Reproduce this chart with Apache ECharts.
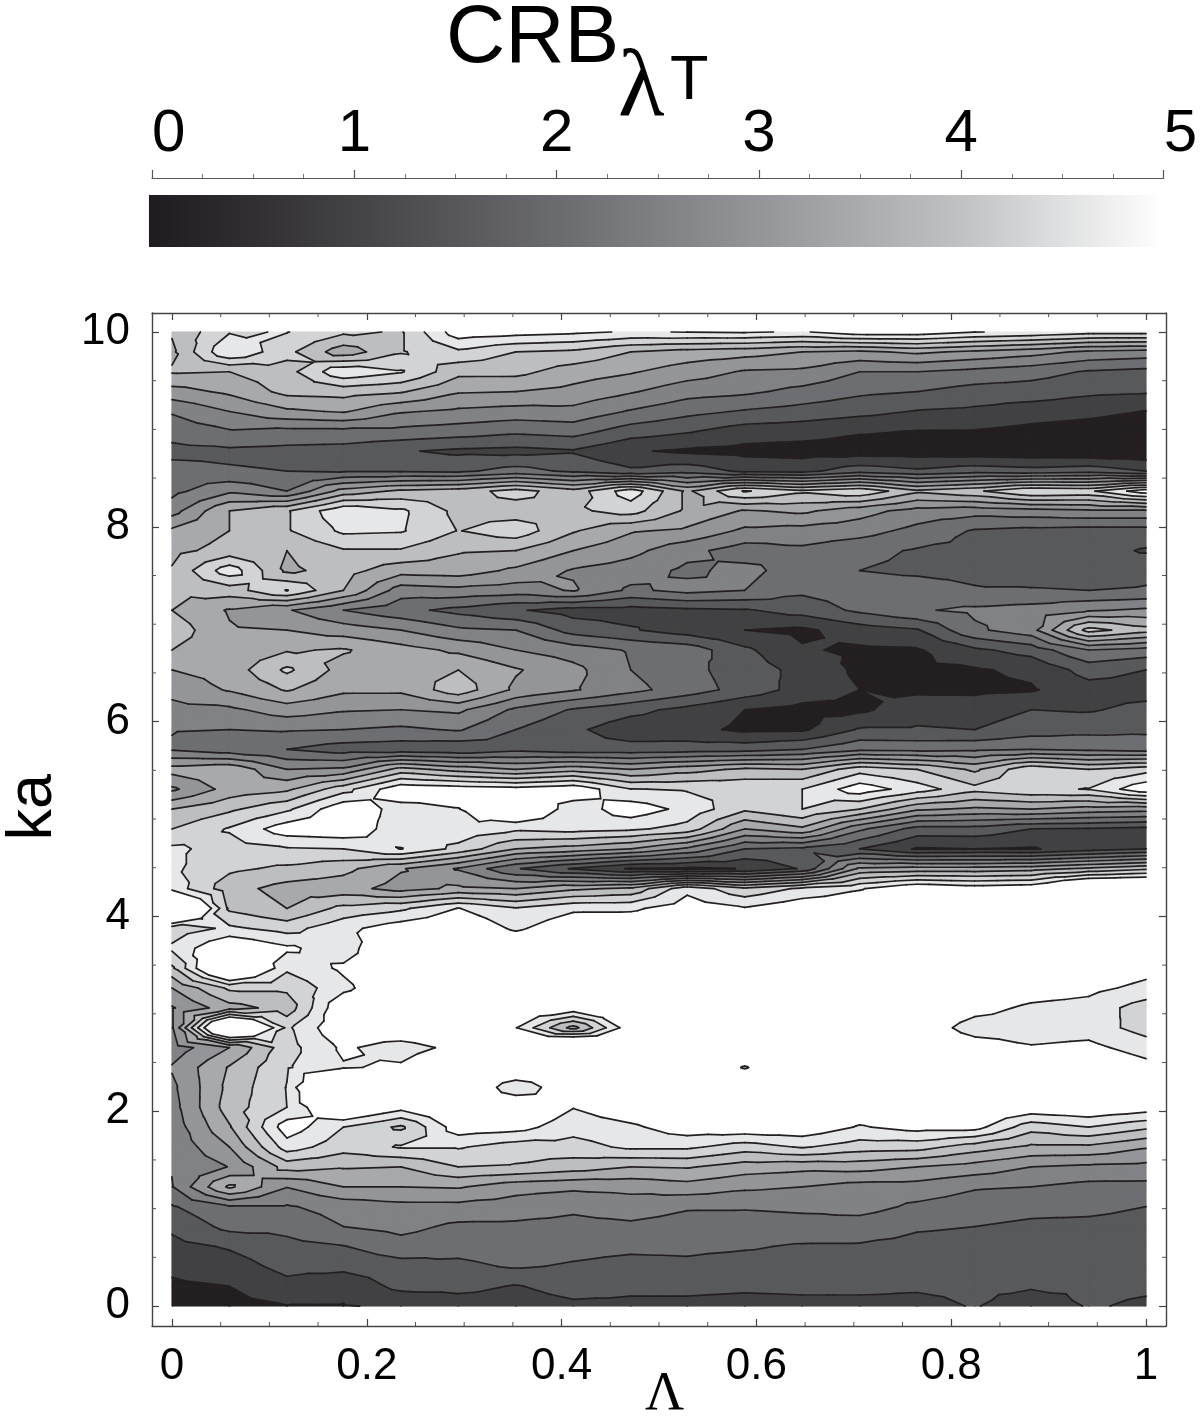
<!DOCTYPE html>
<html>
<head>
<meta charset="utf-8">
<title>CRB contour</title>
<script src="https://cdn.jsdelivr.net/npm/echarts@6/dist/echarts.min.js"></script>
<style>
html, body { margin: 0; padding: 0; background: #fff; }
#main { width: 1200px; height: 1419px; }
</style>
</head>
<body>
<div id="main"></div>
<script>
var lambdaValues = [0, 0.059, 0.118, 0.176, 0.235, 0.294, 0.353, 0.412, 0.471, 0.529, 0.588, 0.647, 0.706, 0.765, 0.824, 0.882, 0.941, 1];
var kaValues = [0, 0.204, 0.408, 0.612, 0.816, 1.02, 1.224, 1.429, 1.633, 1.837, 2.041, 2.245, 2.449, 2.653, 2.857, 3.061, 3.265, 3.469, 3.673, 3.878, 4.082, 4.286, 4.49, 4.694, 4.898, 5.102, 5.306, 5.51, 5.714, 5.918, 6.122, 6.327, 6.531, 6.735, 6.939, 7.143, 7.347, 7.551, 7.755, 7.959, 8.163, 8.367, 8.571, 8.776, 8.98, 9.184, 9.388, 9.592, 9.796, 10];
// one row per ka, bottom row first
var crbRows = [
	[.2,.35,.48,.48,.55,.75,.75,.9,.9,.85,.8,.85,.85,.85,1.03,.75,1.03,.95],
	[.42,.5,.85,.62,1.15,1.15,.97,1.2,1.1,1.15,1.1,1.12,1.12,1.07,1.1,1.05,1.08,1.05],
	[.6,.78,1.15,1.15,1.3,1.4,1.55,1.45,1.35,1.4,1.3,1.3,1.3,1.22,1.2,1.2,1.2,1.15],
	[.85,1.05,1.35,1.48,1.8,1.65,1.75,1.65,1.6,1.6,1.55,1.45,1.45,1.37,1.35,1.3,1.3,1.25],
	[1.1,1.65,1.65,2,2.15,1.9,1.9,1.85,1.9,1.8,1.75,1.8,1.75,1.55,1.5,1.4,1.4,1.35],
	[1.45,1.95,1.95,2.2,2.35,2.35,2.25,2.1,2.25,2.05,2.05,2.1,2.2,1.9,1.75,1.65,1.6,1.5],
	[1.98,3.6,2.52,3,3,3.05,2.7,2.6,2.65,2.8,2.6,2.5,2.3,2.3,2.05,2,1.85,1.85],
	[2.02,2.52,3.7,3.55,3.5,4,3.95,3.75,3.5,3.55,3.25,3.15,3.2,3,2.8,2.5,2.4,2.35],
	[2.1,3,4.75,4.2,4.55,4.55,4.25,4.3,4.6,4.6,4.25,4.55,4.25,4.2,3.75,3.4,3.4,3.05],
	[2.2,3.45,5.3,4.5,3.9,5.3,5.2,4.7,4.9,5.3,5.4,5.4,4.95,5.2,5.2,4.2,4.5,4.1],
	[2.3,3.75,4.5,5.9,5.2,5.6,5.6,5.02,5.4,5.6,5.7,5.7,5.4,5.5,5.6,5.4,5.5,5.3],
	[2.38,3.65,4.52,7.5,5.8,5.8,4.6,5.5,5.7,5.8,5.8,5.8,5.7,5.7,5.7,5.6,5.6,5.6],
	[2.55,3.55,4.45,4.95,5.1,5.8,5.7,5.6,5.7,5.7,4.95,5.7,5.7,5.7,5.7,5.6,5.6,5.2],
	[2.2,3,4.3,5.1,4.7,5.2,5.7,7,5.8,5.7,5.7,5.7,5.7,5.6,5.3,5.05,5.15,4.75],
	[2.45,7,4.4,5.5,5.6,5.8,5.02,3.3,5.4,5.8,5.8,5.8,5.7,5.4,4.75,4.7,4.75,4.3],
	[2.45,3.3,3.7,5.5,5.7,5.8,5.7,5.4,5.8,5.8,5.8,5.8,5.7,5.6,5.2,4.9,4.8,4.25],
	[3,4.1,4.1,4.85,5.6,5.8,5.8,5.8,5.8,5.8,5.8,5.8,5.8,5.7,5.5,5.3,5.15,4.85],
	[3.9,6.5,4.6,5.1,5.6,5.8,5.8,5.8,5.8,5.8,5.8,5.8,5.8,5.8,5.7,5.6,5.5,5.2],
	[4.6,5.6,5.1,4.7,5.8,5.8,5.6,5.8,5.8,5.8,5.8,5.8,5.8,5.8,5.8,5.8,5.8,5.6],
	[4.2,4.6,4.3,4.85,5.3,5.5,4.9,5.4,5.5,5.6,5.6,5.6,5.6,5.6,5.6,5.7,5.8,5.8],
	[7.4,3.9,3.5,4.15,4.4,5.02,4.55,4.9,4.9,5.3,5.05,5.4,5.5,5.7,5.7,5.8,6.5,6.5],
	[4.8,3.7,3.3,3.2,2.8,3.1,3,3.4,3.6,4.85,4.1,4.6,4.95,5.5,5.3,5.4,6.5,6.5],
	[4.6,4.1,3.9,3.65,3.05,2.45,1.55,.95,.45,.4,.52,1.05,3.1,3.2,3.2,3.3,3.6,3.9],
	[4.6,4.3,4.45,4.5,5.02,4.35,3.5,3.3,3,2.4,1.5,1.4,1,.45,.5,.45,.75,.98],
	[4,4.55,5.3,5.4,4.7,4.85,4.6,4.7,4.6,4.3,3,3.4,2.1,1.3,1.3,1,.95,.85],
	[3.5,3.9,4.4,5.4,4.8,4.98,5.8,4.7,5.3,4.85,4.1,4.5,4,3.1,2.9,3,2.8,2.7],
	[2.4,3.2,3.4,4.3,5.4,5.3,5.2,5.4,4.52,4.45,4.4,4.5,5.3,4.75,4.15,4.4,4.52,5.4],
	[3.2,3.4,2.5,2.6,3.7,3.3,3,3.3,3,3.3,3.6,3.5,4.3,4,3.4,4.4,4,4.3],
	[1.95,1.7,1.5,1.25,1.2,1.1,1.35,1.2,1.2,1.25,1.3,1.5,1.9,1.85,1.9,2,1.9,1.8],
	[2.02,2,2.05,2,1.9,2.05,1.5,1.1,.7,.65,.4,.42,1.05,1.05,1,1.25,1.35,1.4],
	[2.35,2.4,2.75,2.55,2.5,2.6,1.9,1.45,1.15,.85,.5,.35,.4,.8,.75,1,.95,1.15],
	[2.65,3.05,3.55,3.1,3.1,3.8,2.9,2.55,2.15,1.75,1.3,.8,.5,.4,.4,.45,.8,.8],
	[3,3.2,4.1,3.3,3.3,3.5,3.05,2.65,2,1.65,1.25,.85,.4,.4,.45,.6,1.2,1],
	[3.5,3.1,3.45,3.55,3.2,2.9,2.5,2.25,1.95,1.8,1.1,.55,.42,.45,.9,1.2,2,1.8],
	[3.8,3.05,3,2.75,2.5,2.1,2,1.3,1.05,.75,.5,.4,.75,.95,1.9,2.3,4.2,3.7],
	[3.5,2.95,2.55,2,1.65,1.35,1.05,.8,.8,.9,.95,1.2,1.6,1.95,2.1,2.2,2.45,2.6],
	[3.6,3.75,4.52,3.5,2.25,2.35,2.25,2.55,1.9,2.15,2,1.6,1.75,1.75,1.55,1.55,1.5,1.55],
	[3.55,4.8,3.4,3.7,3.2,3.25,2.9,2.45,2.25,1.9,2.15,1.75,1.5,1.4,1.35,1.2,1.2,1.35],
	[3.35,3.7,3.5,3.95,3.95,3.55,3.5,3,2.65,2.15,1.75,1.9,1.65,1.45,1.35,1.25,1.2,.95],
	[3.1,3.5,3.95,4.6,4.55,3.98,4.3,3.55,3.05,2.9,2.4,2.3,2.2,1.85,1.45,1.35,1.3,1.3],
	[2.3,3.5,3.95,4.9,4.6,3.85,3.75,3.9,4.2,3.4,2.95,3.1,2.7,2.3,2.2,2.3,2.4,2.4],
	[1.85,2.4,2,3.2,3.6,3.75,4.2,3.7,4.8,3.4,4.55,4.1,4.4,3.6,3.9,4.5,4.4,5.3],
	[1.7,1.55,1.5,1.45,1.45,1.4,1.7,1.4,1.1,1.3,.9,.85,1.3,1.1,1.3,1.2,1.3,1],
	[1.35,1.4,1.35,1.3,1.05,.9,.85,.95,.55,.42,.35,.3,.25,.25,.2,.15,.1,.1],
	[1.7,1.95,1.85,1.85,1.85,1.75,1.6,1.7,1.25,1.05,.75,.7,.55,.48,.47,.35,.25,.1],
	[2.05,2.5,2.9,3.05,2.55,2.4,2.3,2.35,1.95,1.65,1.45,1.3,1.15,.97,.9,.75,.65,.48],
	[2.8,3.1,3.65,3.7,3.55,3.05,3,2.85,2.55,2.2,2.1,1.85,1.6,1.5,1.3,1.25,1.1,1.05],
	[3.55,3.5,3.8,4.9,4.55,3.65,3.65,3.25,3.05,2.75,2.45,2.4,2,2,1.85,1.7,1.45,1.35],
	[3.4,4.98,4.15,3.2,3.95,4.4,4,3.9,3.5,3.3,3.2,3,2.9,3.1,2.9,2.7,2.4,2.3],
	[3.55,4.46,4.52,4.1,3.95,5.3,5.2,5.1,4.95,5.02,5.05,4.95,5.3,5.3,5.02,4.9,4.7,4.7]
];
var contourLevels = [0.5, 1, 1.5, 2, 2.5, 3, 3.5, 4, 4.5, 5];
var bandColors = ['#231f20', '#414042', '#58595b', '#6d6e71', '#808285', '#939598', '#a7a9ac', '#bcbec0', '#d1d3d4', '#e6e7e8', '#ffffff'];
var lineColor = '#231f20';

var lambdaMajor = [0, 0.2, 0.4, 0.6, 0.8, 1];
var lambdaMinor = [0.05, 0.1, 0.15, 0.25, 0.3, 0.35, 0.45, 0.5, 0.55, 0.65, 0.7, 0.75, 0.85, 0.9, 0.95];
var kaMajor = [0, 2, 4, 6, 8, 10];
var kaMinor = [0.5, 1, 1.5, 2.5, 3, 3.5, 4.5, 5, 5.5, 6.5, 7, 7.5, 8.5, 9, 9.5];
var barTicks = [0, 1, 2, 3, 4, 5];
var barColors = ['#1f1b20', '#434245', '#6a6b6f', '#939598', '#bfc1c3', '#ffffff'];

var xRange = [-0.0205, 1.0205];
var yRange = [-0.205, 10.195];

// every grid cell becomes four triangles around its centre, so peaks come out as plain diamonds
var triangles = [];
for (var j = 0; j < kaValues.length - 1; j++) {
	for (var i = 0; i < lambdaValues.length - 1; i++) {
		for (var k = 0; k < 4; k++) {
			triangles.push([i, j, k]);
		}
	}
}
var cellCorners = [[0, 0], [1, 0], [1, 1], [0, 1]];

function triPoints(tri) {
	var corners = cellCorners.map(function(c) {
		var ci = tri[0] + c[0];
		var cj = tri[1] + c[1];
		return [lambdaValues[ci], kaValues[cj], crbRows[cj][ci]];
	});
	var centre = [0, 0, 0];
	corners.forEach(function(p) {
		centre[0] += p[0] / 4;
		centre[1] += p[1] / 4;
		centre[2] += p[2] / 4;
	});
	return [corners[tri[2]], corners[(tri[2] + 1) % 4], centre];
}

function lerp(a, b, level) {
	var t = (level - a[2]) / (b[2] - a[2]);
	return [a[0] + (b[0] - a[0]) * t, a[1] + (b[1] - a[1]) * t, level];
}

// keep the part of a polygon above (sign 1) or below (sign -1) a level
function clipPoly(poly, level, sign) {
	var out = [];
	for (var n = 0; n < poly.length; n++) {
		var a = poly[n];
		var b = poly[(n + 1) % poly.length];
		var aIn = (a[2] - level) * sign >= 0;
		var bIn = (b[2] - level) * sign >= 0;
		if (aIn) out.push(a);
		if (aIn !== bIn) out.push(lerp(a, b, level));
	}
	return out;
}

function renderFill(params, api) {
	var pts = triPoints(triangles[params.dataIndex]);
	var children = [];
	for (var b = 0; b < bandColors.length; b++) {
		var poly = pts;
		if (b > 0) poly = clipPoly(poly, contourLevels[b - 1], 1);
		if (b < contourLevels.length && poly.length) poly = clipPoly(poly, contourLevels[b], -1);
		if (poly.length < 3) continue;
		children.push({
			type: 'polygon',
			shape: { points: poly.map(function(p) { return api.coord([p[0], p[1]]); }) },
			style: { fill: bandColors[b], stroke: bandColors[b], lineWidth: 1 }
		});
	}
	return { type: 'group', children: children };
}

function renderLines(params, api) {
	var pts = triPoints(triangles[params.dataIndex]);
	var children = [];
	contourLevels.forEach(function(level) {
		var cut = [];
		for (var n = 0; n < 3; n++) {
			var a = pts[n];
			var b = pts[(n + 1) % 3];
			if ((a[2] >= level) !== (b[2] >= level)) cut.push(lerp(a, b, level));
		}
		if (cut.length === 2) {
			var p1 = api.coord([cut[0][0], cut[0][1]]);
			var p2 = api.coord([cut[1][0], cut[1][1]]);
			children.push({
				type: 'line',
				shape: { x1: p1[0], y1: p1[1], x2: p2[0], y2: p2[1] },
				style: { stroke: lineColor, lineWidth: 1.7, lineCap: 'round' }
			});
		}
	});
	return { type: 'group', children: children };
}

// short frame ticks between the numbered ones, on all four sides
var minorTicks = [];
lambdaMinor.forEach(function(v) { minorTicks.push(['x', v]); });
kaMinor.forEach(function(v) { minorTicks.push(['y', v]); });

function renderMinor(params, api) {
	var t = minorTicks[params.dataIndex];
	var len = 4;
	var children = [];
	var ends = t[0] === 'x' ? [[t[1], yRange[0], 0, -len], [t[1], yRange[1], 0, len]] : [[xRange[0], t[1], len, 0], [xRange[1], t[1], -len, 0]];
	ends.forEach(function(e) {
		var p1 = api.coord([e[0], e[1]]);
		children.push({
			type: 'line',
			shape: { x1: p1[0], y1: p1[1], x2: p1[0] + e[2], y2: p1[1] + e[3] },
			style: { stroke: '#555', lineWidth: 1 }
		});
	});
	return { type: 'group', children: children };
}

function renderBar(params, api) {
	var p1 = api.coord([-0.015, 1]);
	var p2 = api.coord([5, 0]);
	var stops = barColors.map(function(c, n) {
		return { offset: barTicks[n] / 5, color: c };
	});
	return {
		type: 'rect',
		shape: { x: p1[0], y: p1[1], width: p2[0] - p1[0], height: p2[1] - p1[1] },
		style: { fill: new echarts.graphic.LinearGradient(0, 0, 1, 0, stops) }
	};
}

var fontName = '"Liberation Sans", Arial, sans-serif';

function frameAxis(position, customTicks, showLabel, range) {
	var axis = {
		type: 'value',
		position: position,
		min: range[0],
		max: range[1],
		gridIndex: 0,
		splitLine: { show: false },
		axisLine: { show: true, onZero: false, lineStyle: { color: '#444', width: 1.4 } },
		axisTick: { show: true, inside: true, length: 7, customValues: customTicks, lineStyle: { color: '#444', width: 1.2 } },
		axisLabel: { show: false }
	};
	if (showLabel) {
		axis.axisLabel = {
			show: true,
			customValues: customTicks,
			fontFamily: fontName,
			fontSize: 44,
			color: '#000',
			margin: position === 'bottom' ? 19 : 22,
			hideOverlap: false,
			formatter: function(v) { return String(v); }
		};
	}
	return axis;
}

var myChart = echarts.init(document.getElementById('main'), null, { renderer: 'canvas' });
var triangleData = triangles.map(function(t, n) { return [lambdaValues[t[0]], kaValues[t[1]], n]; });
var option = {
	animation: false,
	backgroundColor: '#fff',
	grid: [
		{ left: 152, top: 313, width: 1014, height: 1013 },
		{ left: 152, top: 178, width: 1016, height: 69 }
	],
	xAxis: [
		frameAxis('bottom', lambdaMajor, true, xRange),
		frameAxis('top', lambdaMajor, false, xRange),
		{
			type: 'value',
			gridIndex: 1,
			position: 'top',
			min: 0,
			max: 5,
			interval: 1,
			splitLine: { show: false },
			axisLine: { show: true, onZero: false, lineStyle: { color: '#555', width: 1.2 } },
			axisTick: { show: true, length: 8, lineStyle: { color: '#555', width: 1.2 } },
			minorTick: { show: true, splitNumber: 4, length: 4, lineStyle: { color: '#777', width: 1 } },
			axisLabel: { fontFamily: fontName, fontSize: 60, color: '#000', margin: 14, alignMinLabel: 'left', alignMaxLabel: 'left' }
		}
	],
	yAxis: [
		frameAxis('left', kaMajor, true, yRange),
		frameAxis('right', kaMajor, false, yRange),
		{ type: 'value', gridIndex: 1, min: 0, max: 1.327, show: false }
	],
	series: [
		{
			type: 'custom',
			xAxisIndex: 2,
			yAxisIndex: 2,
			renderItem: renderBar,
			data: [[0, 0]],
			silent: true,
			clip: false
		},
		{
			type: 'custom',
			xAxisIndex: 0,
			yAxisIndex: 0,
			renderItem: renderFill,
			data: triangleData,
			progressive: 0,
			silent: true,
			z: 2
		},
		{
			type: 'custom',
			xAxisIndex: 0,
			yAxisIndex: 0,
			renderItem: renderLines,
			data: triangleData,
			progressive: 0,
			silent: true,
			z: 3
		},
		{
			type: 'custom',
			xAxisIndex: 0,
			yAxisIndex: 0,
			renderItem: renderMinor,
			data: minorTicks.map(function(t, n) { return t[0] === 'x' ? [t[1], 0, n] : [0, t[1], n]; }),
			silent: true,
			z: 4
		}
	],
	graphic: [
		{ type: 'text', left: 446, top: -2, style: { text: 'CRB', font: '400 82px "Liberation Sans"', fill: '#000' } },
		{ type: 'text', left: 618, top: 42, style: { text: 'λ', font: '400 96px "Liberation Serif"', fill: '#000' } },
		{ type: 'text', left: 670, top: 50, style: { text: 'T', font: '400 63px "Liberation Sans"', fill: '#000' } },
		{ type: 'text', left: 2, top: 774, rotation: Math.PI / 2, style: { text: 'ka', font: '400 63px "Liberation Sans"', fill: '#000' } },
		{ type: 'text', left: 645, top: 1368, style: { text: 'Λ', font: '400 54px "Liberation Serif"', fill: '#000' } }
	]
};
myChart.setOption(option);
</script>
</body>
</html>
